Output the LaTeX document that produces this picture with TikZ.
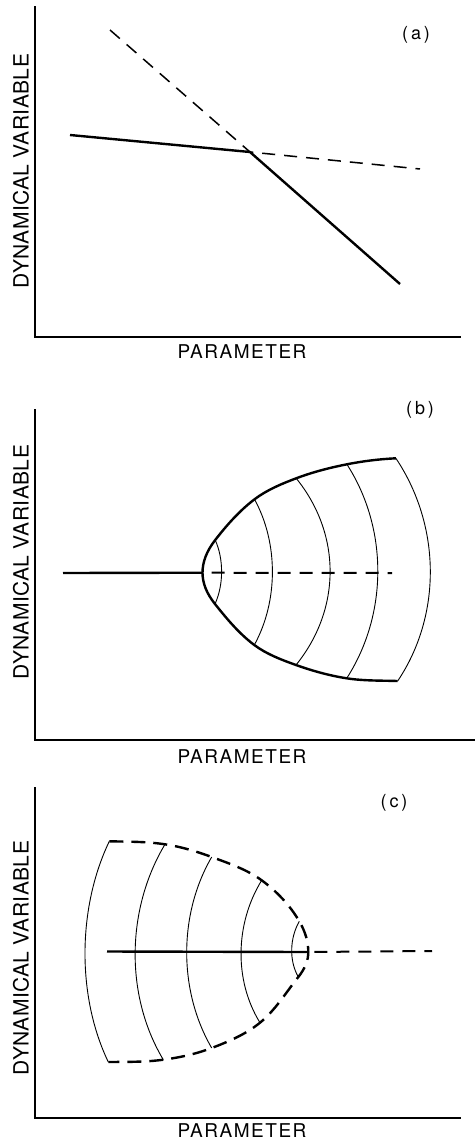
\documentclass[tikz,border=0pt]{standalone}
\usepackage{fontspec}
\setmainfont{TeX Gyre Heros}
\newfontfamily\xlabfont[LetterSpace=8]{TeX Gyre Heros}
\newfontfamily\ylabfont[LetterSpace=2]{TeX Gyre Heros}
\newfontfamily\tagfont[LetterSpace=16]{TeX Gyre Heros}
\tikzset{
  axisline/.style={line width=1.8pt, line cap=butt},
  curve/.style={line width=2.4pt, line join=round},
  thinarc/.style={line width=0.9pt},
  dashline/.style={line width=1.5pt, dash pattern=on 13pt off 9pt},
  dashcurve/.style={line width=2.4pt, dash pattern=on 14pt off 8pt},
  xlab/.style={font=\xlabfont\fontsize{19}{19}\selectfont, inner sep=0pt},
  ylab/.style={font=\ylabfont\fontsize{21}{21}\selectfont, inner sep=0pt, rotate=90},
  tag/.style={font=\tagfont\fontsize{18}{18}\selectfont, inner sep=0pt},
}
\begin{document}
\begin{tikzpicture}[x=1pt, y=-1pt]
\useasboundingbox (0,0) rectangle (475,1143);

% ---------------- panel (a) ----------------
\draw[axisline] (35,6) -- (35,337) -- (461,337);
\node[xlab] (pa) at (242,352) {PARAMETER};
\node[ylab] (va) at (21,171) {DYNAMICAL VARIABLE};
\node[tag] (ta) at (416,35) {(a)};
\coordinate (a1) at (70,135);
\coordinate (ak) at (250,152);
\coordinate (a2) at (400,284);
\coordinate (d1) at (110,30);
\coordinate (d2) at (420,169);
\draw[curve] (a1) -- (ak) -- (a2);
\draw[dashline] (d1) -- (ak) -- (d2);

% ---------------- panel (b) ----------------
\draw[axisline] (35,409) -- (35,740) -- (475,740);
\node[xlab] (pb) at (242,757) {PARAMETER};
\node[ylab] (vb) at (21,562) {DYNAMICAL VARIABLE};
\node[tag] (tb) at (420,410) {(b)};
\coordinate (bs) at (63,573);
\coordinate (bv) at (202.5,572.7);
\coordinate (be) at (392,573);
\draw[curve] (bs) -- (bv);
\draw[dashline, line width=2pt, dash phase=-9pt] (bv) -- (be);
\draw[curve] (395.9,458.3) .. controls +(-16.5,0.8) and +(16.2,-3.2) .. (346.9,464.3)
  .. controls +(-17.2,3.4) and +(16.4,-6.2) .. (296.2,478.3)
  .. controls +(-14.6,5.5) and +(12.4,-9.4) .. (254.5,499.3)
  .. controls +(-15.0,11.4) and +(11.6,-14.9) .. (215.2,540)
  .. controls +(-8.47,10.9) and +(0,-10.9) .. (bv)
  .. controls +(0,10.44) and +(-8.33,-10.43) .. (215,604)
  .. controls +(11.8,14.8) and +(-15.1,-11.3) .. (254.3,645)
  .. controls +(12.3,9.2) and +(-14.5,-5.2) .. (296,665)
  .. controls +(16.5,5.9) and +(-17.3,-2.7) .. (346.7,678.3)
  .. controls +(16.8,2.6) and +(-17,-0.5) .. (397.7,681);
\foreach \xa/\ya/\xb/\yb/\s in {215.2/540/215/604/6.5, 254.5/499.3/254.3/645/18,
   296.2/478.3/296/665/34, 346.9/464.3/346.7/678.3/31, 395.9/458.3/397.7/681/33.5}
  \draw[thinarc] (\xa,\ya) .. controls ({\xa+4*\s/3},{\ya+0.3*(\yb-\ya)})
    and ({\xb+4*\s/3},{\yb-0.3*(\yb-\ya)}) .. (\xb,\yb);

% ---------------- panel (c) ----------------
\draw[axisline] (35,787) -- (35,1118) -- (461,1118);
\node[xlab] (pc) at (242,1131) {PARAMETER};
\node[ylab] (vc) at (21,958) {DYNAMICAL VARIABLE};
\node[tag] (tc) at (394,803) {(c)};
\coordinate (cs) at (107,951.5);
\coordinate (cv) at (308.3,952);
\coordinate (ce) at (432,951);
\draw[curve] (cs) -- (cv);
\draw[dashline, line width=2pt, dash phase=-6pt] (cv) -- (ce);
\draw[dashcurve] (109.3,841.3) .. controls +(18.6,0.4) and +(-18.4,-2.8) .. (165,844.3)
  .. controls +(15.9,2.4) and +(-15.1,-5.6) .. (211.7,857)
  .. controls +(17.3,6.4) and +(-14.9,-10.9) .. (261.7,880.3)
  .. controls +(14.9,10.9) and +(-9.3,-16.0) .. (299.3,921.3)
  .. controls +(6,10.24) and +(0,-10.23) .. (cv)
  .. controls +(0,8.33) and +(6.67,-8.33) .. (298.3,977)
  .. controls +(-12.4,15.5) and +(15.4,-12.6) .. (260,1022.7)
  .. controls +(-14.1,11.5) and +(17.0,-6.5) .. (211.7,1048)
  .. controls +(-15.5,5.9) and +(16.5,-2.2) .. (163.3,1059.7)
  .. controls +(-18.2,2.5) and +(18.4,-0.2) .. (108.3,1062);
\foreach \xa/\ya/\xb/\yb/\s in {299.3/921.3/298.3/977/-7.1, 261.7/880.3/260/1022.7/-19.8,
   211.7/857/211.7/1048/-25, 165/844.3/163.3/1059.7/-29, 109.3/841.3/108.3/1062/-23.8}
  \draw[thinarc] (\xa,\ya) .. controls ({\xa+4*\s/3},{\ya+0.3*(\yb-\ya)})
    and ({\xb+4*\s/3},{\yb-0.3*(\yb-\ya)}) .. (\xb,\yb);
\end{tikzpicture}
\end{document}
